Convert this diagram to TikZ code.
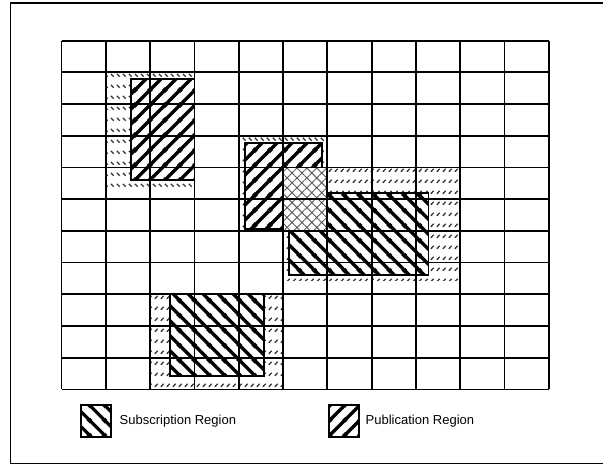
\documentclass[tikz,border=0pt]{standalone}
\usepackage{fontspec}
\setmainfont{Liberation Sans}
\usetikzlibrary{patterns,patterns.meta}

\pgfdeclarepatternformonly{subtick}{\pgfqpoint{0pt}{0pt}}{\pgfqpoint{5.5pt}{10.5pt}}{\pgfqpoint{5.5pt}{10.5pt}}{
  \pgfsetlinewidth{1.4pt}
  \pgfpathmoveto{\pgfqpoint{1pt}{5.5pt}}
  \pgfpathlineto{\pgfqpoint{4pt}{8.5pt}}
  \pgfusepath{stroke}
}
\pgfdeclarepatternformonly{pubtick}{\pgfqpoint{0pt}{0pt}}{\pgfqpoint{5.5pt}{10.5pt}}{\pgfqpoint{5.5pt}{10.5pt}}{
  \pgfsetlinewidth{1.4pt}
  \pgfpathmoveto{\pgfqpoint{1pt}{8.5pt}}
  \pgfpathlineto{\pgfqpoint{4pt}{5.5pt}}
  \pgfusepath{stroke}
}
\pgfdeclarepatternformonly{pubstripes}{\pgfqpoint{0pt}{0pt}}{\pgfqpoint{15pt}{15pt}}{\pgfqpoint{15pt}{15pt}}{
  \pgfsetlinewidth{3.5pt}
  \pgfpathmoveto{\pgfqpoint{-3pt}{-3pt}}\pgfpathlineto{\pgfqpoint{18pt}{18pt}}
  \pgfpathmoveto{\pgfqpoint{-3pt}{12pt}}\pgfpathlineto{\pgfqpoint{3pt}{18pt}}
  \pgfpathmoveto{\pgfqpoint{12pt}{-3pt}}\pgfpathlineto{\pgfqpoint{18pt}{3pt}}
  \pgfusepath{stroke}
}
\pgfdeclarepatternformonly{substripes}{\pgfqpoint{0pt}{0pt}}{\pgfqpoint{15pt}{15pt}}{\pgfqpoint{15pt}{15pt}}{
  \pgfsetlinewidth{3.5pt}
  \pgfpathmoveto{\pgfqpoint{-3pt}{18pt}}\pgfpathlineto{\pgfqpoint{18pt}{-3pt}}
  \pgfpathmoveto{\pgfqpoint{-3pt}{3pt}}\pgfpathlineto{\pgfqpoint{3pt}{-3pt}}
  \pgfpathmoveto{\pgfqpoint{12pt}{18pt}}\pgfpathlineto{\pgfqpoint{18pt}{12pt}}
  \pgfusepath{stroke}
}

\begin{document}
\begin{tikzpicture}[x=1pt, y=-1pt, line width=1.8pt,
    whitebg/.style={preaction={fill=white}},
    subregion/.style={whitebg, draw=black, pattern=substripes},
    pubregion/.style={whitebg, draw=black, pattern=pubstripes},
    subzone/.style={whitebg, pattern=subtick, pattern color=black!80},
    pubzone/.style={whitebg, pattern=pubtick, pattern color=black!80},
    overlap/.style={whitebg, pattern={Hatch[angle=45,distance=7pt,line width=0.9pt]}, pattern color=black!65},
    legendtext/.style={right, font=\fontsize{13}{15}\selectfont}]
    \useasboundingbox (0,0) rectangle (603,465);
    \draw (10.5,3) rectangle (615,463.5);
    \path[pubzone] (106,73) rectangle (194.4,192);
    \path[pubzone] (239,137) rectangle (327.3,230.7);
    \path[subzone] (283,168) rectangle (460,281);
    \path[subzone] (150,293) rectangle (283,389);
    \draw[pubregion] (131,79) rectangle (194.4,180);
    \draw[pubregion] (245,142.7) rectangle (321.7,229.3);
    \draw[subregion] (289,193) rectangle (428.5,275);
    \draw[subregion] (170,294) rectangle (264,376);
    \path[overlap] (283,168) rectangle (327.3,230.7);
    \foreach \c in {0,...,11}
        \draw (61.5+44.3*\c,40.7) -- (61.5+44.3*\c,389.4);
    \foreach \r in {0,...,11}
        \draw (61.5,40.7+31.7*\r) -- (548.8,40.7+31.7*\r);
    \draw[subregion, line width=2.4pt] (81,405) rectangle (111,437);
    \node[legendtext] (sublabel) at (115.5,421) {Subscription Region};
    \draw[pubregion, line width=2.4pt] (329,405) rectangle (359,437);
    \node[legendtext] (publabel) at (361.5,421) {Publication Region};
\end{tikzpicture}
\end{document}
